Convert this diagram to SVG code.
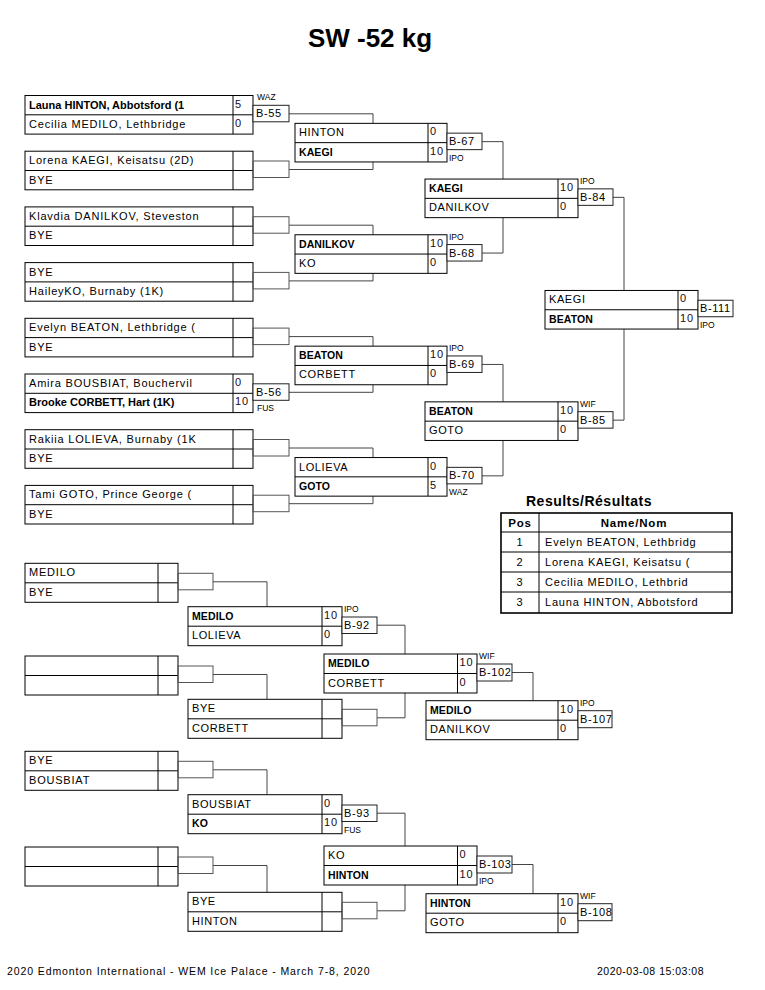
<svg xmlns="http://www.w3.org/2000/svg" width="765" height="990" viewBox="0 0 765 990">
<style>
text{font-family:"Liberation Sans",Arial,sans-serif;fill:#000}
.bx{fill:#fff;stroke:#000;stroke-width:1}
.dv{stroke:#000;stroke-width:1}
.mb{fill:#fff;stroke:#222;stroke-width:1}
.br{fill:none;stroke:#555;stroke-width:1}
.cn{fill:none;stroke:#444;stroke-width:1}
.n{font-size:11px;letter-spacing:0.8px}
.n2{font-size:11px;letter-spacing:0.6px}
.b{font-size:11px;font-weight:bold}
.b2{font-size:10.5px;font-weight:bold;letter-spacing:0.1px}
.s{font-size:11px;letter-spacing:0.8px;fill:#1a0a1a}
.m{font-size:11px;letter-spacing:0.6px}
.l{font-size:8.5px}
.t{font-size:26px;font-weight:bold}
.rt{font-size:14px;font-weight:bold;letter-spacing:0.5px}
.rh{font-size:11.5px;font-weight:bold;letter-spacing:0.8px}
.f{font-size:10.5px}
</style>
<text class="t" x="370" y="47" text-anchor="middle">SW -52 kg</text>

<g id="connectors">
<path class="cn" d="M289,113.8H373V123.35M289,169.5H373V161.95M289,225.2H373V234.75M289,280.9H373V273.35M289,336.6H373V346.15M289,392.3H373V384.75M289,448H373V457.55M289,503.7H373V496.15"/>
<path class="cn" d="M482,141.65H503V179.05M482,253.05H503V217.65M482,364.45H503V401.85M482,475.85H503V440.45"/>
<path class="cn" d="M613,197.35H624V290.45M613,420.15H624V329.05"/>
<path class="cn" d="M213,581.8H267V606.7M377,625.2H405V654M213,674.5H267V699.3M377,717.8H405V693M512,672.5H533V700.7"/>
<path class="cn" d="M213,769.8H267V794.7M377,813.2H405V846M213,865.5H267V892.3M377,910.8H405V885M512,864.5H533V893.7"/>
</g>

<!-- Round 1 -->
<g id="r1m1">
<rect class="bx" x="25" y="95.5" width="228" height="38.6"/><line class="dv" x1="25" y1="114.8" x2="253" y2="114.8"/><line class="dv" x1="233" y1="95.5" x2="233" y2="134.1"/>
<text class="b" x="29" y="108.5">Launa HINTON, Abbotsford (1</text><text class="n" x="29" y="127.8">Cecilia MEDILO, Lethbridge</text>
<text class="s" x="235" y="107.5">5</text><text class="s" x="235" y="126.8">0</text>
<rect class="mb" x="253" y="105.3" width="36" height="16.5"/><text class="m" x="256" y="117.3">B-55</text><text class="l" x="257" y="100.3">WAZ</text>
</g>
<g id="r1m2">
<rect class="bx" x="25" y="151.2" width="228" height="38.6"/><line class="dv" x1="25" y1="170.5" x2="253" y2="170.5"/><line class="dv" x1="233" y1="151.2" x2="233" y2="189.8"/>
<text class="n" x="29" y="164.2">Lorena KAEGI, Keisatsu (2D)</text><text class="n" x="29" y="183.5">BYE</text>
<rect class="br" x="253" y="161" width="36" height="16.5"/>
</g>
<g id="r1m3">
<rect class="bx" x="25" y="206.9" width="228" height="38.6"/><line class="dv" x1="25" y1="226.2" x2="253" y2="226.2"/><line class="dv" x1="233" y1="206.9" x2="233" y2="245.5"/>
<text class="n" x="29" y="219.9">Klavdia DANILKOV, Steveston</text><text class="n" x="29" y="239.2">BYE</text>
<rect class="br" x="253" y="216.7" width="36" height="16.5"/>
</g>
<g id="r1m4">
<rect class="bx" x="25" y="262.6" width="228" height="38.6"/><line class="dv" x1="25" y1="281.9" x2="253" y2="281.9"/><line class="dv" x1="233" y1="262.6" x2="233" y2="301.2"/>
<text class="n" x="29" y="275.6">BYE</text><text class="n" x="29" y="294.9">HaileyKO, Burnaby (1K)</text>
<rect class="br" x="253" y="272.4" width="36" height="16.5"/>
</g>
<g id="r1m5">
<rect class="bx" x="25" y="318.3" width="228" height="38.6"/><line class="dv" x1="25" y1="337.6" x2="253" y2="337.6"/><line class="dv" x1="233" y1="318.3" x2="233" y2="356.9"/>
<text class="n" x="29" y="331.3">Evelyn BEATON, Lethbridge (</text><text class="n" x="29" y="350.6">BYE</text>
<rect class="br" x="253" y="328.1" width="36" height="16.5"/>
</g>
<g id="r1m6">
<rect class="bx" x="25" y="374" width="228" height="38.6"/><line class="dv" x1="25" y1="393.3" x2="253" y2="393.3"/><line class="dv" x1="233" y1="374" x2="233" y2="412.6"/>
<text class="n" x="29" y="387">Amira BOUSBIAT, Bouchervil</text><text class="b" x="29" y="406.3">Brooke CORBETT, Hart (1K)</text>
<text class="s" x="235" y="386">0</text><text class="s" x="235" y="405.3">10</text>
<rect class="mb" x="253" y="383.8" width="36" height="16.5"/><text class="m" x="256" y="395.8">B-56</text><text class="l" x="257" y="411.3">FUS</text>
</g>
<g id="r1m7">
<rect class="bx" x="25" y="429.7" width="228" height="38.6"/><line class="dv" x1="25" y1="449" x2="253" y2="449"/><line class="dv" x1="233" y1="429.7" x2="233" y2="468.3"/>
<text class="n" x="29" y="442.7">Rakiia LOLIEVA, Burnaby (1K</text><text class="n" x="29" y="462">BYE</text>
<rect class="br" x="253" y="439.5" width="36" height="16.5"/>
</g>
<g id="r1m8">
<rect class="bx" x="25" y="485.4" width="228" height="38.6"/><line class="dv" x1="25" y1="504.7" x2="253" y2="504.7"/><line class="dv" x1="233" y1="485.4" x2="233" y2="524"/>
<text class="n" x="29" y="498.4">Tami GOTO, Prince George (</text><text class="n" x="29" y="517.7">BYE</text>
<rect class="br" x="253" y="495.2" width="36" height="16.5"/>
</g>

<!-- Round 2 -->
<g id="r2m1">
<rect class="bx" x="295" y="123.35" width="152" height="38.6"/><line class="dv" x1="295" y1="142.65" x2="447" y2="142.65"/><line class="dv" x1="428" y1="123.35" x2="428" y2="161.95"/>
<text class="n2" x="299" y="136.35">HINTON</text><text class="b2" x="299" y="155.65">KAEGI</text>
<text class="s" x="430" y="135.35">0</text><text class="s" x="430" y="154.65">10</text>
<rect class="mb" x="447" y="133.15" width="35" height="16.5"/><text class="m" x="449" y="145.15">B-67</text><text class="l" x="449" y="160.65">IPO</text>
</g>
<g id="r2m2">
<rect class="bx" x="295" y="234.75" width="152" height="38.6"/><line class="dv" x1="295" y1="254.05" x2="447" y2="254.05"/><line class="dv" x1="428" y1="234.75" x2="428" y2="273.35"/>
<text class="b2" x="299" y="247.75">DANILKOV</text><text class="n2" x="299" y="267.05">KO</text>
<text class="s" x="430" y="246.75">10</text><text class="s" x="430" y="266.05">0</text>
<rect class="mb" x="447" y="244.55" width="35" height="16.5"/><text class="m" x="449" y="256.55">B-68</text><text class="l" x="449" y="239.55">IPO</text>
</g>
<g id="r2m3">
<rect class="bx" x="295" y="346.15" width="152" height="38.6"/><line class="dv" x1="295" y1="365.45" x2="447" y2="365.45"/><line class="dv" x1="428" y1="346.15" x2="428" y2="384.75"/>
<text class="b2" x="299" y="359.15">BEATON</text><text class="n2" x="299" y="378.45">CORBETT</text>
<text class="s" x="430" y="358.15">10</text><text class="s" x="430" y="377.45">0</text>
<rect class="mb" x="447" y="355.95" width="35" height="16.5"/><text class="m" x="449" y="367.95">B-69</text><text class="l" x="449" y="350.95">IPO</text>
</g>
<g id="r2m4">
<rect class="bx" x="295" y="457.55" width="152" height="38.6"/><line class="dv" x1="295" y1="476.85" x2="447" y2="476.85"/><line class="dv" x1="428" y1="457.55" x2="428" y2="496.15"/>
<text class="n2" x="299" y="470.55">LOLIEVA</text><text class="b2" x="299" y="489.85">GOTO</text>
<text class="s" x="430" y="469.55">0</text><text class="s" x="430" y="488.85">5</text>
<rect class="mb" x="447" y="467.35" width="35" height="16.5"/><text class="m" x="449" y="479.35">B-70</text><text class="l" x="449" y="494.85">WAZ</text>
</g>

<!-- Round 3 -->
<g id="r3m1">
<rect class="bx" x="425" y="179.05" width="153" height="38.6"/><line class="dv" x1="425" y1="198.35" x2="578" y2="198.35"/><line class="dv" x1="558" y1="179.05" x2="558" y2="217.65"/>
<text class="b2" x="429" y="192.05">KAEGI</text><text class="n2" x="429" y="211.35">DANILKOV</text>
<text class="s" x="560" y="191.05">10</text><text class="s" x="560" y="210.35">0</text>
<rect class="mb" x="578" y="188.85" width="35" height="16.5"/><text class="m" x="580" y="200.85">B-84</text><text class="l" x="580" y="183.85">IPO</text>
</g>
<g id="r3m2">
<rect class="bx" x="425" y="401.85" width="153" height="38.6"/><line class="dv" x1="425" y1="421.15" x2="578" y2="421.15"/><line class="dv" x1="558" y1="401.85" x2="558" y2="440.45"/>
<text class="b2" x="429" y="414.85">BEATON</text><text class="n2" x="429" y="434.15">GOTO</text>
<text class="s" x="560" y="413.85">10</text><text class="s" x="560" y="433.15">0</text>
<rect class="mb" x="578" y="411.65" width="35" height="16.5"/><text class="m" x="580" y="423.65">B-85</text><text class="l" x="580" y="406.65">WIF</text>
</g>

<!-- Final -->
<g id="final">
<rect class="bx" x="545" y="290.45" width="153" height="38.6"/><line class="dv" x1="545" y1="309.75" x2="698" y2="309.75"/><line class="dv" x1="678" y1="290.45" x2="678" y2="329.05"/>
<text class="n2" x="549" y="303.45">KAEGI</text><text class="b2" x="549" y="322.75">BEATON</text>
<text class="s" x="680" y="302.45">0</text><text class="s" x="680" y="321.75">10</text>
<rect class="mb" x="698" y="300.25" width="35" height="16.5"/><text class="m" x="700" y="312.25">B-111</text><text class="l" x="700" y="327.75">IPO</text>
</g>

<!-- Results -->
<g id="results">
<text class="rt" x="589" y="506" text-anchor="middle">Results/Résultats</text>
<rect x="501" y="513" width="231" height="100" fill="#fff" stroke="#000" stroke-width="1.6"/>
<path d="M501,532H732M501,552H732M501,572H732M501,592H732M539,513V613" stroke="#000" stroke-width="1" fill="none"/>
<text class="rh" x="520" y="527" text-anchor="middle">Pos</text><text class="rh" x="634" y="527" text-anchor="middle">Name/Nom</text>
<text class="n" x="520" y="546" text-anchor="middle">1</text><text class="n" x="545" y="546">Evelyn BEATON, Lethbridg</text>
<text class="n" x="520" y="566" text-anchor="middle">2</text><text class="n" x="545" y="566">Lorena KAEGI, Keisatsu (</text>
<text class="n" x="520" y="586" text-anchor="middle">3</text><text class="n" x="545" y="586">Cecilia MEDILO, Lethbrid</text>
<text class="n" x="520" y="606" text-anchor="middle">3</text><text class="n" x="545" y="606">Launa HINTON, Abbotsford</text>
</g>

<!-- Repechage A -->
<g id="repA1">
<rect class="bx" x="25" y="563.3" width="153" height="39"/><line class="dv" x1="25" y1="582.8" x2="178" y2="582.8"/><line class="dv" x1="158" y1="563.3" x2="158" y2="602.3"/>
<text class="n" x="29" y="576.3">MEDILO</text><text class="n" x="29" y="595.8">BYE</text>
<rect class="br" x="178" y="573.3" width="35" height="16.5"/>
</g>
<g id="repA2">
<rect class="bx" x="188" y="606.7" width="154" height="39"/><line class="dv" x1="188" y1="626.2" x2="342" y2="626.2"/><line class="dv" x1="322" y1="606.7" x2="322" y2="645.7"/>
<text class="b2" x="192" y="619.7">MEDILO</text><text class="n2" x="192" y="639.2">LOLIEVA</text>
<text class="s" x="324" y="618.7">10</text><text class="s" x="324" y="638.2">0</text>
<rect class="mb" x="342" y="617" width="35" height="16.5"/><text class="m" x="344" y="629">B-92</text><text class="l" x="344" y="612">IPO</text>
</g>
<g id="repB1">
<rect class="bx" x="25" y="656" width="153" height="39"/><line class="dv" x1="25" y1="675.5" x2="178" y2="675.5"/><line class="dv" x1="158" y1="656" x2="158" y2="695"/>
<rect class="br" x="178" y="666" width="35" height="16.5"/>
</g>
<g id="repB2">
<rect class="bx" x="188" y="699.3" width="154" height="39"/><line class="dv" x1="188" y1="718.8" x2="342" y2="718.8"/><line class="dv" x1="322" y1="699.3" x2="322" y2="738.3"/>
<text class="n2" x="192" y="712.3">BYE</text><text class="n2" x="192" y="731.8">CORBETT</text>
<rect class="br" x="342" y="709.3" width="35" height="16.5"/>
</g>
<g id="repA3">
<rect class="bx" x="324" y="654" width="153" height="39"/><line class="dv" x1="324" y1="673.5" x2="477" y2="673.5"/><line class="dv" x1="457.5" y1="654" x2="457.5" y2="693"/>
<text class="b2" x="328" y="667">MEDILO</text><text class="n2" x="328" y="686.5">CORBETT</text>
<text class="s" x="459.5" y="666">10</text><text class="s" x="459.5" y="685.5">0</text>
<rect class="mb" x="477" y="664" width="35" height="17"/><text class="m" x="479" y="676">B-102</text><text class="l" x="479" y="659">WIF</text>
</g>
<g id="repA4">
<rect class="bx" x="426" y="700.7" width="152" height="39"/><line class="dv" x1="426" y1="720.2" x2="578" y2="720.2"/><line class="dv" x1="558" y1="700.7" x2="558" y2="739.7"/>
<text class="b2" x="430" y="713.7">MEDILO</text><text class="n2" x="430" y="733.2">DANILKOV</text>
<text class="s" x="560" y="712.7">10</text><text class="s" x="560" y="732.2">0</text>
<rect class="mb" x="578" y="710.7" width="34" height="17"/><text class="m" x="580" y="722.7">B-107</text><text class="l" x="580" y="705.7">IPO</text>
</g>

<!-- Repechage B -->
<g id="repC1">
<rect class="bx" x="25" y="751.3" width="153" height="39"/><line class="dv" x1="25" y1="770.8" x2="178" y2="770.8"/><line class="dv" x1="158" y1="751.3" x2="158" y2="790.3"/>
<text class="n" x="29" y="764.3">BYE</text><text class="n" x="29" y="783.8">BOUSBIAT</text>
<rect class="br" x="178" y="761.3" width="35" height="16.5"/>
</g>
<g id="repC2">
<rect class="bx" x="188" y="794.7" width="154" height="39"/><line class="dv" x1="188" y1="814.2" x2="342" y2="814.2"/><line class="dv" x1="322" y1="794.7" x2="322" y2="833.7"/>
<text class="n2" x="192" y="807.7">BOUSBIAT</text><text class="b2" x="192" y="827.2">KO</text>
<text class="s" x="324" y="806.7">0</text><text class="s" x="324" y="826.2">10</text>
<rect class="mb" x="342" y="805" width="35" height="16.5"/><text class="m" x="344" y="817">B-93</text><text class="l" x="344" y="832.5">FUS</text>
</g>
<g id="repD1">
<rect class="bx" x="25" y="847" width="153" height="39"/><line class="dv" x1="25" y1="866.5" x2="178" y2="866.5"/><line class="dv" x1="158" y1="847" x2="158" y2="886"/>
<rect class="br" x="178" y="857" width="35" height="16.5"/>
</g>
<g id="repD2">
<rect class="bx" x="188" y="892.3" width="154" height="39"/><line class="dv" x1="188" y1="911.8" x2="342" y2="911.8"/><line class="dv" x1="322" y1="892.3" x2="322" y2="931.3"/>
<text class="n2" x="192" y="905.3">BYE</text><text class="n2" x="192" y="924.8">HINTON</text>
<rect class="br" x="342" y="902.3" width="35" height="16.5"/>
</g>
<g id="repC3">
<rect class="bx" x="324" y="846" width="153" height="39"/><line class="dv" x1="324" y1="865.5" x2="477" y2="865.5"/><line class="dv" x1="457.5" y1="846" x2="457.5" y2="885"/>
<text class="n2" x="328" y="859">KO</text><text class="b2" x="328" y="878.5">HINTON</text>
<text class="s" x="459.5" y="858">0</text><text class="s" x="459.5" y="877.5">10</text>
<rect class="mb" x="477" y="856" width="35" height="17"/><text class="m" x="479" y="868">B-103</text><text class="l" x="479" y="884">IPO</text>
</g>
<g id="repC4">
<rect class="bx" x="426" y="893.7" width="152" height="39"/><line class="dv" x1="426" y1="913.2" x2="578" y2="913.2"/><line class="dv" x1="558" y1="893.7" x2="558" y2="932.7"/>
<text class="b2" x="430" y="906.7">HINTON</text><text class="n2" x="430" y="926.2">GOTO</text>
<text class="s" x="560" y="905.7">10</text><text class="s" x="560" y="925.2">0</text>
<rect class="mb" x="578" y="903.7" width="34" height="17"/><text class="m" x="580" y="915.7">B-108</text><text class="l" x="580" y="898.7">WIF</text>
</g>

<text class="f" x="7" y="975" letter-spacing="0.9">2020 Edmonton International - WEM Ice Palace - March 7-8, 2020</text>
<text class="f" x="597" y="975" letter-spacing="0.5">2020-03-08 15:03:08</text>
</svg>
